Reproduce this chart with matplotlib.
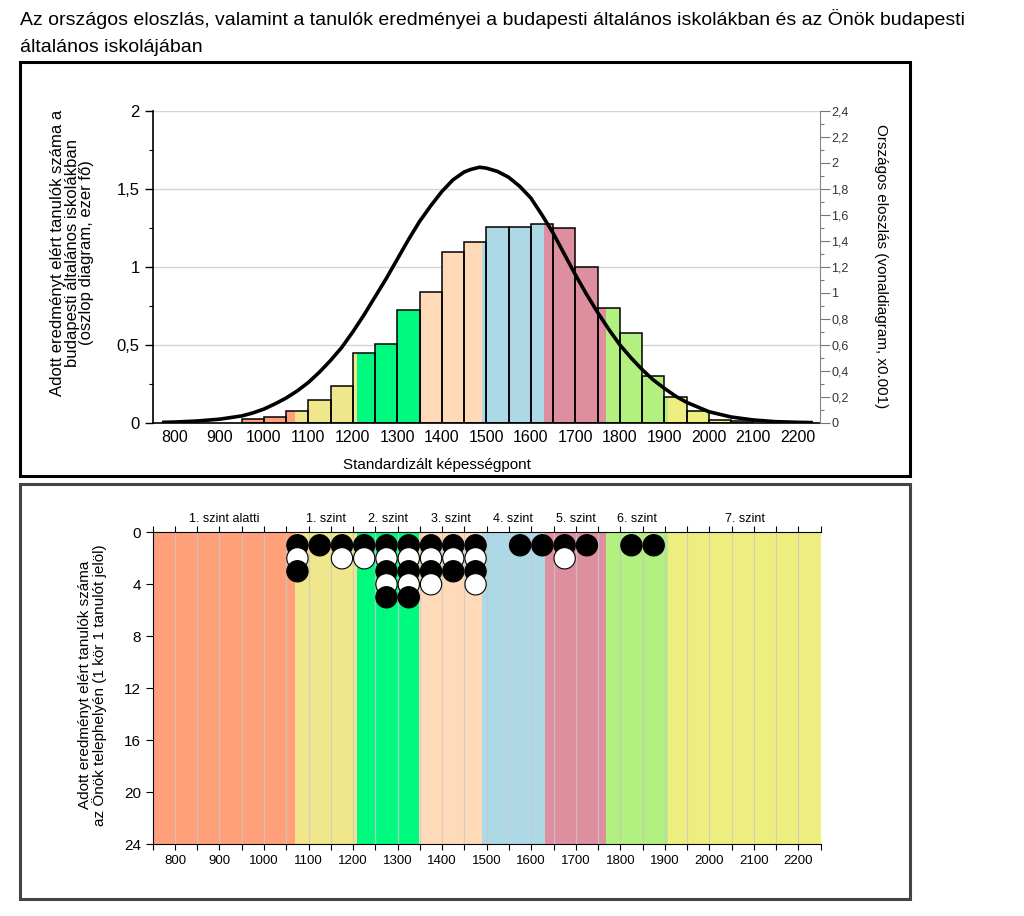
import numpy as np
import matplotlib
matplotlib.use('Agg')
import matplotlib.pyplot as plt
from matplotlib.patches import Rectangle

plt.rcParams['font.family'] = ['Liberation Sans', 'DejaVu Sans']

# képességszintek határai és színei
level_edges = [750, 1070, 1209, 1349, 1490, 1630, 1769, 1908, 2250]
level_colors = ['#FFA07A', '#F0E68C', '#00FA80', '#FFDAB9', '#ADD8E6', '#DD8FA0', '#B2F07F', '#EEEE80']
level_names = ['1. szint alatti', '1. szint', '2. szint', '3. szint', '4. szint',
               '5. szint', '6. szint', '7. szint']

# budapesti általános iskolák (ezer fő), 50 pontos sávok bal széle
bar_left = [950, 1000, 1050, 1100, 1150, 1200, 1250, 1300, 1350, 1400, 1450, 1500,
            1550, 1600, 1650, 1700, 1750, 1800, 1850, 1900, 1950, 2000, 2050]
bar_height = [0.021, 0.034, 0.073, 0.143, 0.235, 0.449, 0.503, 0.723, 0.841, 1.093, 1.157, 1.258,
              1.254, 1.273, 1.247, 0.997, 0.734, 0.573, 0.302, 0.163, 0.077, 0.017, 0.011]
BIN = 50

# országos eloszlás (x0.001)
curve_x = [775, 800, 850, 900, 950, 975, 1000, 1025, 1050, 1075, 1100, 1125, 1150, 1175, 1200,
           1225, 1250, 1275, 1300, 1325, 1350, 1375, 1400, 1425, 1450, 1465, 1485, 1500, 1525,
           1550, 1575, 1600, 1625, 1650, 1675, 1700, 1725, 1750, 1775, 1800, 1825, 1850, 1875,
           1900, 1925, 1950, 2000, 2050, 2100, 2150, 2200, 2230]
curve_y = [0.003, 0.005, 0.013, 0.027, 0.052, 0.075, 0.105, 0.145, 0.19, 0.245, 0.31, 0.39, 0.48,
           0.58, 0.70, 0.83, 0.97, 1.11, 1.26, 1.41, 1.55, 1.67, 1.78, 1.87, 1.93, 1.95, 1.967,
           1.96, 1.935, 1.89, 1.82, 1.73, 1.60, 1.46, 1.30, 1.14, 0.99, 0.85, 0.72, 0.60, 0.50,
           0.41, 0.33, 0.265, 0.205, 0.157, 0.085, 0.044, 0.021, 0.008, 0.003, 0.001]

# telephely tanulói (1 kör = 1 tanuló)
dot_x = [1075, 1125, 1175, 1225, 1275, 1325, 1375, 1425, 1475, 1575, 1625, 1675, 1725, 1825, 1875]
dot_count = [3, 1, 2, 2, 5, 5, 4, 3, 4, 1, 1, 2, 1, 1, 1]

x_ticks = [800, 900, 1000, 1100, 1200, 1300, 1400, 1500, 1600, 1700, 1800, 1900, 2000, 2100, 2200]
left_ticks = [0, 0.5, 1, 1.5, 2]
left_labels = ['0', '0,5', '1', '1,5', '2']
right_ticks = [0, 0.2, 0.4, 0.6, 0.8, 1, 1.2, 1.4, 1.6, 1.8, 2, 2.2, 2.4]
right_labels = ['0', '0,2', '0,4', '0,6', '0,8', '1', '1,2', '1,4', '1,6', '1,8', '2', '2,2', '2,4']
bottom_yticks = [0, 4, 8, 12, 16, 20, 24]

W, H = 1024, 916
fig = plt.figure(figsize=(W / 100, H / 100), dpi=100)


def fx(px):
    return px / W


def fy(py):
    return 1 - py / H


# cím
fig.text(fx(20), fy(25), 'Az országos eloszlás, valamint a tanulók eredményei a budapesti általános iskolákban és az Önök budapesti',
         fontsize=14, va='baseline', ha='left')
fig.text(fx(20), fy(52), 'általános iskolájában', fontsize=14, va='baseline', ha='left')

# keretek
fig.add_artist(Rectangle((fx(20), fy(476)), fx(890), 414 / H, transform=fig.transFigure,
                         fill=False, lw=2.2, ec='black'))
fig.add_artist(Rectangle((fx(20), fy(899)), fx(890), 415 / H, transform=fig.transFigure,
                         fill=False, lw=2.2, ec='#444444'))

# ---- felső diagram ----
ax1 = fig.add_axes([fx(152.7), fy(422.7), fx(667.3), 311.7 / H])
ax1.set_xlim(750, 2250)
ax1.set_ylim(0, 2)
ax1.set_axisbelow(True)
ax1.yaxis.grid(True, color='#d4d4d4', lw=1)

for left, h in zip(bar_left, bar_height):
    right = left + BIN
    for i in range(len(level_edges) - 1):
        a = max(left, level_edges[i])
        b = min(right, level_edges[i + 1])
        if b > a:
            ax1.bar(a, h, width=b - a, align='edge', color=level_colors[i], lw=0, zorder=2)
    ax1.bar(left, h, width=BIN, align='edge', fill=False, ec='black', lw=1.1, zorder=3)

ax1.set_yticks(left_ticks)
ax1.set_yticklabels(left_labels, fontsize=12)
ax1.set_yticks(np.arange(0.25, 2, 0.5), minor=True)
ax1.set_xticks(x_ticks)
ax1.set_xticklabels([str(t) for t in x_ticks], fontsize=11.5)
ax1.tick_params(axis='x', length=0, pad=5)
ax1.tick_params(axis='y', which='major', length=6, width=1)
ax1.tick_params(axis='y', which='minor', length=3, width=0.8)
for s in ['top', 'right']:
    ax1.spines[s].set_visible(False)
ax1.spines['left'].set_linewidth(1.2)
ax1.spines['bottom'].set_linewidth(1.2)

ax2 = ax1.twinx()
ax2.set_ylim(0, 2.4)
ax2.plot(curve_x, curve_y, color='black', lw=2.6, solid_joinstyle='round', zorder=5)
ax2.set_yticks(right_ticks)
ax2.set_yticklabels(right_labels, fontsize=9, color='#333333')
ax2.set_yticks(np.arange(0.1, 2.4, 0.2), minor=True)
ax2.tick_params(axis='y', which='major', length=7, width=0.8, color='#777777', pad=1)
ax2.tick_params(axis='y', which='minor', length=3, width=0.8, color='#777777')
for s in ['top', 'left', 'bottom']:
    ax2.spines[s].set_visible(False)
ax2.spines['right'].set_color('#888888')

fig.text(fx(72), fy(253), 'Adott eredményt elért tanulók száma a\nbudapesti általános iskolákban\n(oszlop diagram, ezer fő)',
         rotation=90, ha='center', va='center', multialignment='center', fontsize=12, linespacing=0.95)
fig.text(fx(881), fy(266), 'Országos eloszlás (vonaldiagram, x0.001)', rotation=270,
         ha='center', va='center', fontsize=11)
fig.text(fx(437), fy(465), 'Standardizált képességpont', ha='center', va='center', fontsize=11)

# ---- alsó diagram ----
ax3 = fig.add_axes([fx(152.7), fy(844.3), fx(668), 312 / H])
ax3.set_xlim(750, 2250)
ax3.set_ylim(24, 0)
for i in range(len(level_edges) - 1):
    ax3.axvspan(level_edges[i], level_edges[i + 1], color=level_colors[i], lw=0, zorder=0)
    ax3.text((level_edges[i] + level_edges[i + 1]) / 2, 1.025, level_names[i],
             transform=ax3.get_xaxis_transform(), ha='center', va='bottom', fontsize=9)
for gx in np.arange(800, 2250, 50):
    ax3.axvline(gx, color='#c8c8c8', lw=0.9, alpha=0.8, zorder=1)

px, py, pc = [], [], []
for x, n in zip(dot_x, dot_count):
    for k in range(1, n + 1):
        px.append(x)
        py.append(k)
        pc.append('black' if k % 2 == 1 else 'white')
ax3.scatter(px, py, s=235, c=pc, edgecolors='black', linewidths=0.8, zorder=4, clip_on=False)

ax3.set_yticks(bottom_yticks)
ax3.set_yticklabels([str(t) for t in bottom_yticks], fontsize=11)
ax3.set_xticks(x_ticks)
ax3.set_xticklabels([str(t) for t in x_ticks], fontsize=9.5)
ax3.set_xticks(np.arange(750, 2251, 50), minor=True)
ax3.tick_params(axis='x', which='both', top=True, bottom=True, length=4, width=0.8)
ax3.tick_params(axis='y', length=5, width=0.8)
ax3.spines['right'].set_visible(False)

fig.text(fx(92.5), fy(685), 'Adott eredményt elért tanulók száma\naz Önök telephelyén (1 kör 1 tanulót jelöl)',
         rotation=90, ha='center', va='center', multialignment='center', fontsize=11, linespacing=0.95)

fig.savefig('out.png', dpi=100)
